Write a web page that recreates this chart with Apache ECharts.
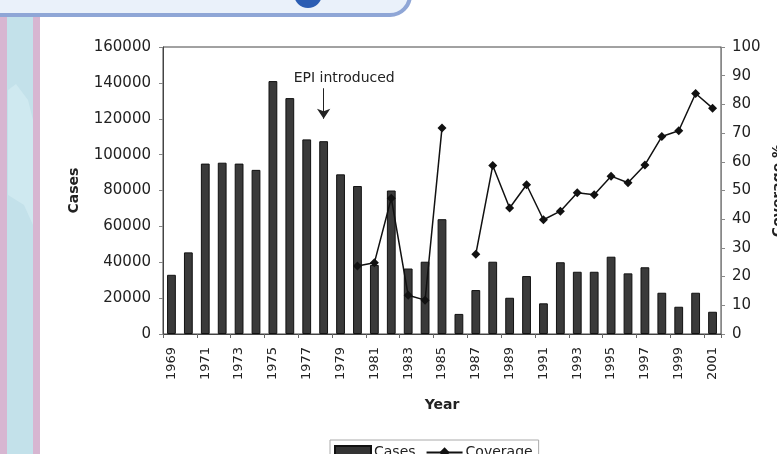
<!DOCTYPE html>
<html>
<head>
<meta charset="utf-8">
<style>
  html, body { margin: 0; padding: 0; background: #fff; }
  #chart { width: 777px; height: 454px; }
</style>
<script src="https://cdn.jsdelivr.net/npm/echarts@6/dist/echarts.min.js"></script>
</head>
<body>
<div id="chart"></div>
<script>
// years 1969..2001
const years = [];
for (let y = 1969; y <= 2001; y++) years.push(String(y));

// reported cases per year
const cases = [
  33000, 45500, 95000, 95500, 95000, 91500, 141000, 131500, 108500, 107500,
  89000, 82500, 38500, 80000, 36500, 40300, 64000, 11200, 24500, 40300,
  20200, 32300, 17100, 40000, 34700, 34700, 43100, 33800, 37200, 23000,
  15200, 23000, 12400
];

// vaccine coverage %, no data before 1980 and in 1986
const coverage = [
  null, null, null, null, null, null, null, null, null, null,
  null, 23.7, 24.8, 47.3, 13.5, 11.8, 71.8, null, 27.8, 58.7,
  43.9, 52.0, 39.8, 42.8, 49.2, 48.5, 55.0, 52.7, 58.9, 68.8,
  70.8, 83.8, 78.7
];

const epiYear = '1978';
const epiArrow = [137000, 120000]; // arrow from / to, in cases units

const font = 'DejaVu Sans, Liberation Sans, Arial, sans-serif';
const chart = echarts.init(document.getElementById('chart'));

const option = {
  animation: false,
  backgroundColor: '#fff',
  textStyle: { fontFamily: font },
  grid: {
    left: 163, right: 56, top: 47, bottom: 120,
    containLabel: false, outerBoundsMode: 'none',
    show: true, borderColor: '#444', borderWidth: 1
  },
  legend: {
    bottom: -16,
    left: 330,
    padding: [5, 6, 10, 4],
    itemGap: 10,
    borderColor: '#aaa',
    borderWidth: 1,
    textStyle: { fontFamily: font, fontSize: 14, color: '#222', padding: [0, 0, 0, -2] },
    data: [
      { name: 'Cases', icon: 'rect', itemStyle: { color: '#333' } },
      { name: 'Coverage' }
    ],
    itemWidth: 36,
    itemHeight: 13
  },
  xAxis: {
    type: 'category',
    data: years,
    name: 'Year',
    nameLocation: 'middle',
    nameGap: 64,
    nameTextStyle: { fontWeight: 'bold', fontSize: 14, color: '#222' },
    axisLine: { lineStyle: { color: '#444' } },
    axisTick: { show: true, length: 4, lineStyle: { color: '#666' } },
    axisLabel: { rotate: 90, interval: 1, fontSize: 13, color: '#222', margin: 13 }
  },
  yAxis: [
    {
      type: 'value',
      min: 0, max: 160000, interval: 20000,
      name: 'Cases',
      nameLocation: 'middle',
      nameGap: 82,
      nameRotate: 90,
      nameMoveOverlap: false,
      nameTextStyle: { fontWeight: 'bold', fontSize: 14, color: '#222' },
      splitLine: { show: false },
      axisLine: { show: true, lineStyle: { color: '#444' } },
      axisTick: { show: true, length: 4, lineStyle: { color: '#888' } },
      axisLabel: { fontSize: 15, color: '#222', margin: 12, formatter: v => String(v) }
    },
    {
      type: 'value',
      min: 0, max: 100, interval: 10,
      name: 'Coverage %',
      nameLocation: 'middle',
      nameGap: 50,
      nameRotate: 90,
      nameMoveOverlap: false,
      nameTextStyle: { fontWeight: 'bold', fontSize: 14, color: '#222' },
      splitLine: { show: false },
      axisLine: { show: true, lineStyle: { color: '#888' } },
      axisTick: { show: true, length: 4, lineStyle: { color: '#888' } },
      axisLabel: { fontSize: 15, color: '#222', margin: 11 }
    }
  ],
  series: [
    {
      name: 'Cases',
      type: 'bar',
      data: cases,
      barWidth: '52%',
      itemStyle: { color: '#3a3a3a', borderColor: '#111', borderWidth: 1 },
      markLine: {
        silent: true,
        symbol: ['none', 'arrow'],
        symbolSize: [10, 10],
        label: { show: false },
        lineStyle: { color: '#222', width: 1, type: 'solid' },
        data: [[
          { coord: [epiYear, epiArrow[0]] },
          { coord: [epiYear, epiArrow[1]] }
        ]]
      }
    },
    {
      name: 'Coverage',
      type: 'line',
      yAxisIndex: 1,
      data: coverage,
      connectNulls: false,
      symbol: 'diamond',
      symbolSize: 9,
      lineStyle: { color: '#111', width: 1.5 },
      itemStyle: { color: '#111' }
    }
  ]
};

chart.setOption(option);

// annotation text placed relative to the arrow start
const p = chart.convertToPixel({ xAxisIndex: 0, yAxisIndex: 0 }, [epiYear, epiArrow[0]]);

chart.setOption({
  graphic: [
    // slide decorations
    { type: 'rect', z: -10, shape: { x: 0, y: 14, width: 40, height: 460 }, style: { fill: '#d7b6d1' } },
    { type: 'rect', z: -9, shape: { x: 7, y: 14, width: 26, height: 460 }, style: { fill: '#c3e1ea' } },
    { type: 'polygon', z: -8, shape: { points: [[8, 90], [16, 84], [28, 100], [33, 120], [33, 225], [24, 205], [8, 195]] }, style: { fill: '#cfe9f0' } },
    { type: 'rect', z: -7, shape: { x: -30, y: -40, width: 440, height: 55, r: 20 }, style: { fill: '#eaf1fa', stroke: '#8fa6d6', lineWidth: 4 } },
    { type: 'circle', z: -6, shape: { cx: 308, cy: -6, r: 14 }, style: { fill: '#2b5db3' } },
    {
      type: 'text',
      x: p[0] - 30, y: p[1] - 3,
      style: { text: 'EPI introduced', font: '14px ' + font, fill: '#222', textVerticalAlign: 'bottom' }
    }
  ]
});
</script>
</body>
</html>
